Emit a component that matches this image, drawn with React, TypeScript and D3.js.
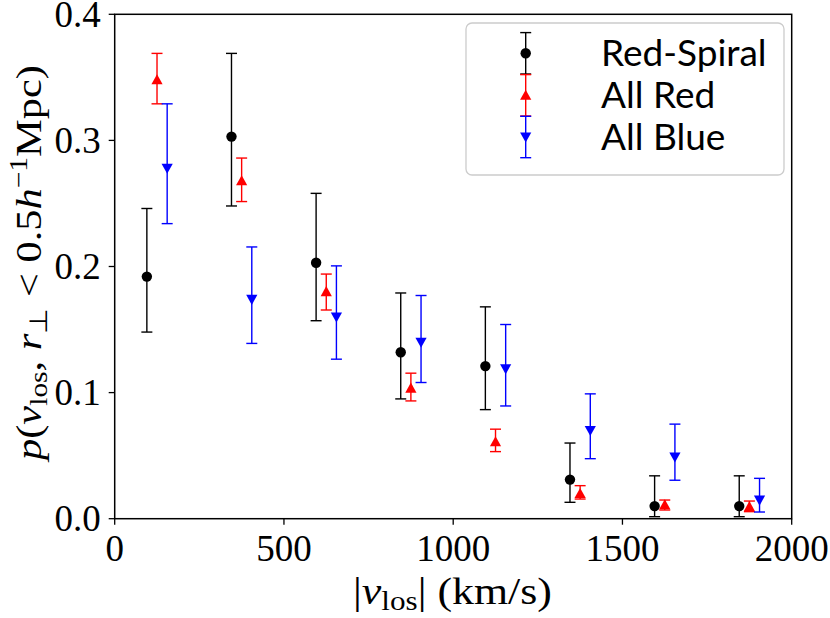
import * as d3 from "d3";

const W = 830;
const H = 618;
const MARGIN = { top: 14.3, right: 38.3, bottom: 99.3, left: 114.7 };

// bin centres in km/s, each series shifted a little so the bars don't overlap
const binCenters = [125, 375, 625, 875, 1125, 1375, 1625, 1875];
const OFFSETS = [-30, 0, 30];

const redSpiralY = [0.192, 0.303, 0.203, 0.132, 0.121, 0.031, 0.010, 0.010];
const redSpiralLo = [0.148, 0.248, 0.157, 0.095, 0.0865, 0.013, 0.0016, 0.0016];
const redSpiralHi = [0.246, 0.369, 0.258, 0.179, 0.168, 0.060, 0.034, 0.034];

const allRedY = [0.348, 0.268, 0.180, 0.1035, 0.061, 0.020, 0.011, 0.0095];
const allRedLo = [0.329, 0.2515, 0.1655, 0.0934, 0.0532, 0.0156, 0.0069, 0.0056];
const allRedHi = [0.369, 0.286, 0.194, 0.1154, 0.071, 0.0262, 0.0148, 0.014];

const allBlueY = [0.278, 0.174, 0.160, 0.140, 0.119, 0.070, 0.049, 0.0148];
const allBlueLo = [0.234, 0.139, 0.1265, 0.108, 0.0894, 0.0476, 0.0305, 0.0053];
const allBlueHi = [0.329, 0.2155, 0.2005, 0.177, 0.154, 0.099, 0.075, 0.032];

const xTicks = [0, 500, 1000, 1500, 2000];
const yTicks = [0.0, 0.1, 0.2, 0.3, 0.4];

const seriesNames = ["Red-Spiral", "All Red", "All Blue"];
const seriesColors = ["#000000", "#ff0000", "#0000ff"];
const seriesMarkers = ["circle", "up", "down"];

const SERIF = "Liberation Serif";
const SANS = "Lato";

const CAP = 5.5;

const Marker = ({ kind, x, y, color }: { kind: string; x: number; y: number; color: string }) => {
  if (kind === "circle") return <circle cx={x} cy={y} r={5.2} fill={color} />;
  const s = 5.6;
  const pts =
    kind === "up"
      ? [[x, y - s], [x - s, y + s * 0.8], [x + s, y + s * 0.8]]
      : [[x, y + s], [x - s, y - s * 0.8], [x + s, y - s * 0.8]];
  return <polygon points={pts.map((p) => p.join(",")).join(" ")} fill={color} />;
};

const ErrBar = ({ x, y0, y1, color }: { x: number; y0: number; y1: number; color: string }) => (
  <g stroke={color} strokeWidth={1.4}>
    <line x1={x} x2={x} y1={y0} y2={y1} />
    <line x1={x - CAP} x2={x + CAP} y1={y0} y2={y0} />
    <line x1={x - CAP} x2={x + CAP} y1={y1} y2={y1} />
  </g>
);

export default function App() {
  const xScale = d3.scaleLinear().domain([0, 2000]).range([MARGIN.left, W - MARGIN.right]);
  const yScale = d3.scaleLinear().domain([0, 0.4]).range([H - MARGIN.bottom, MARGIN.top]);

  const series = [
    { y: redSpiralY, lo: redSpiralLo, hi: redSpiralHi },
    { y: allRedY, lo: allRedLo, hi: allRedHi },
    { y: allBlueY, lo: allBlueLo, hi: allBlueHi },
  ];

  const x0 = xScale(0);
  const x1 = xScale(2000);
  const y0 = yScale(0);
  const y1 = yScale(0.4);

  // legend geometry
  const legX = 466;
  const legY = 23;
  const handleX = 525.7;
  const rowY = [53.3, 95.3, 137.0];

  return (
    <svg width={W} height={H} style={{ position: "absolute", left: 0, top: 0, background: "#fff" }}>
      {/* data */}
      {series.map((s, si) => (
        <g key={si}>
          {binCenters.map((c, i) => {
            const px = xScale(c + OFFSETS[si]);
            return (
              <g key={i}>
                <ErrBar x={px} y0={yScale(s.lo[i])} y1={yScale(s.hi[i])} color={seriesColors[si]} />
                <Marker kind={seriesMarkers[si]} x={px} y={yScale(s.y[i])} color={seriesColors[si]} />
              </g>
            );
          })}
        </g>
      ))}

      {/* frame */}
      <rect x={x0} y={y1} width={x1 - x0} height={y0 - y1} fill="none" stroke="#000" strokeWidth={1.5} />

      {/* x ticks */}
      {xTicks.map((t) => (
        <g key={t}>
          <line x1={xScale(t)} x2={xScale(t)} y1={y0} y2={y0 + 6} stroke="#000" strokeWidth={1.3} />
          <text x={xScale(t)} y={y0 + 42} textAnchor="middle" fontFamily={SERIF} fontSize={37}>
            {t}
          </text>
        </g>
      ))}

      {/* y ticks */}
      {yTicks.map((t) => (
        <g key={t}>
          <line x1={x0 - 6} x2={x0} y1={yScale(t)} y2={yScale(t)} stroke="#000" strokeWidth={1.3} />
          <text x={x0 - 14} y={yScale(t) + 12.5} textAnchor="end" fontFamily={SERIF} fontSize={37}>
            {t.toFixed(1)}
          </text>
        </g>
      ))}

      {/* x label */}
      <text
        x={353}
        y={604}
        fontFamily={SERIF}
        fontSize={38}
        textLength={199}
        lengthAdjust="spacingAndGlyphs"
      >
        |<tspan fontStyle="italic">v</tspan>
        <tspan fontSize={27} dy={6}>los</tspan>
        <tspan dy={-6}>| (km/s)</tspan>
      </text>

      {/* y label */}
      <text
        transform={`translate(41,460) rotate(-90)`}
        fontFamily={SERIF}
        fontSize={36}
        textLength={395}
        lengthAdjust="spacingAndGlyphs"
      >
        <tspan fontStyle="italic">p</tspan>(<tspan fontStyle="italic">v</tspan>
        <tspan fontSize={25} dy={6}>los</tspan>
        <tspan dy={-6}>, </tspan>
        <tspan fontStyle="italic">r</tspan>
        <tspan fontSize={25} dy={6}>⊥</tspan>
        <tspan dy={-6}> &lt; 0.5</tspan>
        <tspan fontStyle="italic">h</tspan>
        <tspan fontSize={25} dy={-14}>−1</tspan>
        <tspan dy={14}>Mpc)</tspan>
      </text>

      {/* legend */}
      <rect x={legX} y={legY} width={318} height={152} rx={6} fill="#fff" fillOpacity={0.8} stroke="#cccccc" strokeWidth={1.3} />
      {seriesNames.map((n, i) => (
        <g key={n}>
          <ErrBar x={handleX} y0={rowY[i] - 20.7} y1={rowY[i] + 20.7} color={seriesColors[i]} />
          <Marker kind={seriesMarkers[i]} x={handleX} y={rowY[i]} color={seriesColors[i]} />
          <text x={601} y={rowY[i] + 13} fontFamily={SANS} fontSize={37}>
            {n}
          </text>
        </g>
      ))}
    </svg>
  );
}
